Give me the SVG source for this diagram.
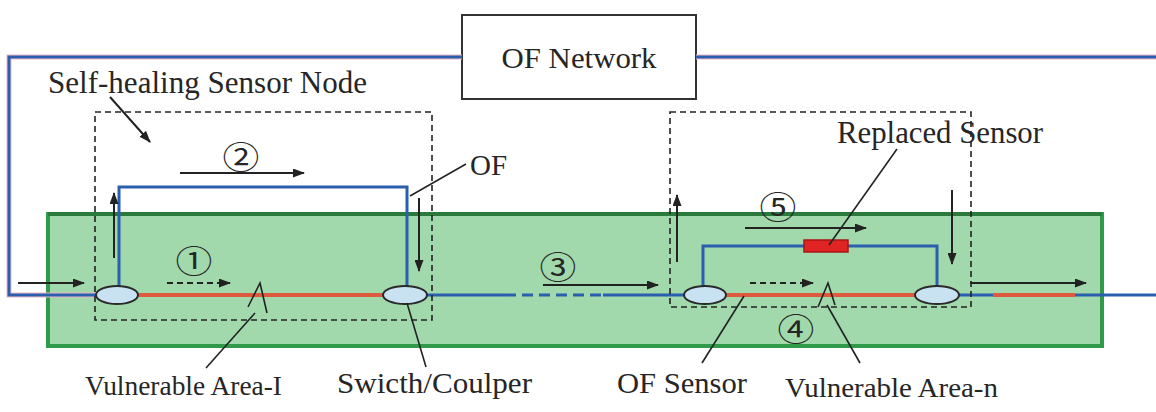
<svg xmlns="http://www.w3.org/2000/svg" width="1156" height="412" viewBox="0 0 1156 412">
  <style>
    .txt { font-family: "Liberation Serif", "Times New Roman", "DejaVu Serif", serif; fill: #262626; }
    .num { font-family: "Noto Sans CJK JP", "DejaVu Sans", sans-serif; fill: #262626; font-size: 32px; text-anchor: middle; }
    .fiber { fill: none; stroke: #2b5fae; stroke-width: 3; }
    .halo { fill: none; stroke: #f2b6c4; stroke-width: 5; }
    .red { fill: none; stroke: #de5a3c; stroke-width: 4; }
    .dash { fill: none; stroke: #222; stroke-width: 1.6; stroke-dasharray: 6 4; }
    .arr { fill: none; stroke: #222; stroke-width: 2; marker-end: url(#ah); }
    .arrd { fill: none; stroke: #222; stroke-width: 2; stroke-dasharray: 6 4; marker-end: url(#ah); }
    .lead { fill: none; stroke: #222; stroke-width: 1.6; }
    .cpl { fill: #c9e2f2; stroke: #2a2a2a; stroke-width: 2; }
  </style>
  <defs>
    <marker id="ah" markerUnits="userSpaceOnUse" markerWidth="12" markerHeight="9" refX="11" refY="4.5" orient="auto">
      <path d="M0,0 L12,4.5 L0,9 z" fill="#222"/>
    </marker>
  </defs>
  <rect width="1156" height="412" fill="#ffffff"/>

  <g id="green-zone">
    <rect x="48" y="214" width="1054" height="132" fill="#a2d9ac" stroke="#2f9a4a" stroke-width="4"/>
    <line x1="48" y1="214" x2="1102" y2="214" stroke="#2a7a3c" stroke-width="4"/>
  </g>

  <g id="of-network">
    <rect x="462" y="15" width="234" height="84" fill="#ffffff" stroke="#333" stroke-width="2"/>
    <text class="txt" x="579" y="68" font-size="30" text-anchor="middle" textLength="155" lengthAdjust="spacingAndGlyphs">OF Network</text>
  </g>

  <g id="fibers">
    <path class="halo" d="M462 57 H9 V295 H100"/>
    <path class="halo" d="M696 57 H1156"/>
    <path class="fiber" d="M462 57 H9 V295 H100"/>
    <path class="fiber" d="M696 57 H1156"/>
    <path class="fiber" d="M119 288 V187 H407 V288"/>
    <path class="fiber" d="M703 288 V246 H806"/>
    <path class="fiber" d="M846 246 H937 V288"/>
    <line class="red" x1="136" y1="295" x2="386" y2="295"/>
    <line class="fiber" x1="425" y1="295" x2="505" y2="295"/>
    <line class="fiber" x1="505" y1="295" x2="603" y2="295" stroke-dasharray="11 6"/>
    <line class="fiber" x1="603" y1="295" x2="686" y2="295"/>
    <line class="red" x1="724" y1="295" x2="918" y2="295"/>
    <line class="fiber" x1="957" y1="295" x2="993" y2="295"/>
    <line class="red" x1="993" y1="295" x2="1075" y2="295"/>
    <line class="fiber" x1="1075" y1="295" x2="1156" y2="295"/>
  </g>

  <g id="self-healing-node-1">
    <rect class="dash" x="95" y="112" width="337" height="208"/>
  </g>
  <g id="self-healing-node-2">
    <rect class="dash" x="670" y="112" width="301" height="195"/>
  </g>

  <g id="replaced-sensor">
    <rect x="804" y="240" width="44" height="12" fill="#e02424" stroke="#a81515" stroke-width="1.5"/>
  </g>

  <g id="coupler-1"><ellipse class="cpl" cx="117" cy="295" rx="21" ry="9"/></g>
  <g id="coupler-2"><ellipse class="cpl" cx="405" cy="295" rx="22" ry="9"/></g>
  <g id="coupler-3"><ellipse class="cpl" cx="705" cy="295" rx="21" ry="9"/></g>
  <g id="coupler-4"><ellipse class="cpl" cx="937" cy="295" rx="22" ry="9"/></g>

  <g id="vulnerable-marks">
    <polyline class="lead" points="248,307 260,283 267,313"/>
    <polyline class="lead" points="818,307 828,283 835,305"/>
  </g>

  <g id="connectors">
    <line class="arr" x1="18" y1="283" x2="84" y2="283"/>
    <line class="arr" x1="114" y1="258" x2="114" y2="193"/>
    <line class="arr" x1="419" y1="198" x2="419" y2="271"/>
    <line class="arr" x1="180" y1="173" x2="304" y2="173"/>
    <line class="arrd" x1="167" y1="283" x2="230" y2="283"/>
    <line class="arr" x1="543" y1="285" x2="658" y2="285"/>
    <line class="arr" x1="677" y1="262" x2="677" y2="195"/>
    <line class="arr" x1="745" y1="228" x2="866" y2="228"/>
    <line class="arrd" x1="750" y1="283" x2="813" y2="283"/>
    <line class="arr" x1="952" y1="190" x2="952" y2="264"/>
    <line class="arr" x1="970" y1="283" x2="1086" y2="283"/>
    <line class="arr" x1="110" y1="97" x2="150" y2="142"/>
    <line class="lead" x1="410" y1="196" x2="466" y2="164"/>
    <line class="lead" x1="897" y1="149" x2="829" y2="245"/>
    <line class="lead" x1="206" y1="368" x2="255" y2="313"/>
    <line class="lead" x1="426" y1="367" x2="407" y2="303"/>
    <line class="lead" x1="702" y1="363" x2="744" y2="296"/>
    <line class="lead" x1="860" y1="363" x2="827" y2="305"/>
  </g>

  <g id="step-labels">
    <text class="num" transform="translate(241,169) scale(1.15,1)" x="0" y="0">②</text>
    <text class="num" transform="translate(194,273) scale(1.15,1)" x="0" y="0">①</text>
    <text class="num" transform="translate(558,279) scale(1.15,1)" x="0" y="0">③</text>
    <text class="num" transform="translate(796,341) scale(1.15,1)" x="0" y="0">④</text>
    <text class="num" transform="translate(778,219) scale(1.15,1)" x="0" y="0">⑤</text>
  </g>

  <g id="labels">
    <text class="txt" x="48" y="93" font-size="31" textLength="319" lengthAdjust="spacingAndGlyphs">Self-healing Sensor Node</text>
    <text class="txt" x="470" y="175" font-size="29">OF</text>
    <text class="txt" x="837" y="143" font-size="31" textLength="206" lengthAdjust="spacingAndGlyphs">Replaced Sensor</text>
    <text class="txt" x="85" y="395" font-size="27" textLength="197" lengthAdjust="spacingAndGlyphs">Vulnerable Area-I</text>
    <text class="txt" x="337" y="393" font-size="30" textLength="195" lengthAdjust="spacingAndGlyphs">Swicth/Coulper</text>
    <text class="txt" x="617" y="393" font-size="30" textLength="130" lengthAdjust="spacingAndGlyphs">OF Sensor</text>
    <text class="txt" x="785" y="397" font-size="28" textLength="213" lengthAdjust="spacingAndGlyphs">Vulnerable Area-n</text>
  </g>
</svg>
